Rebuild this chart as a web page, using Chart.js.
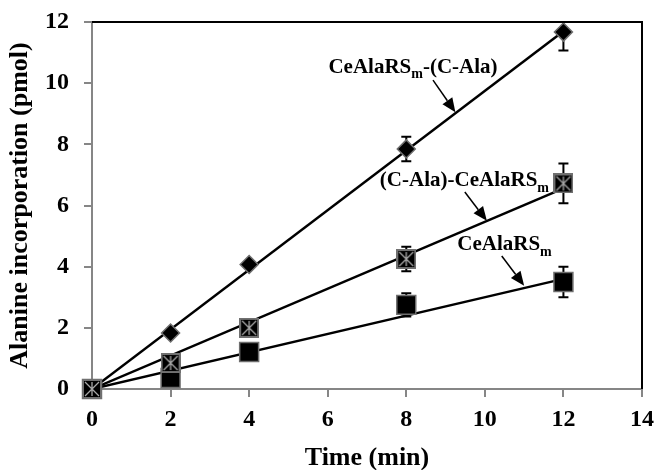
<!DOCTYPE html>
<html>
<head>
<meta charset="utf-8">
<script src="https://cdn.jsdelivr.net/npm/chart.js@4"></script>
<style>
  html, body { margin: 0; padding: 0; background: #fff; }
  #wrap { width: 658px; height: 470px; position: relative; }
</style>
</head>
<body>
<div id="wrap"><canvas id="chart"></canvas></div>
<script>
// time points (min)
const timeMin = [0, 2, 4, 8, 12];

// CeAlaRSm-(C-Ala)
const fusionCAla = [0, 1.83, 4.07, 7.85, 11.67];
const fusionCAlaErr = [0, 0.05, 0.1, 0.4, 0.6];

// (C-Ala)-CeAlaRSm
const cAlaFusion = [0, 0.85, 2.0, 4.25, 6.72];
const cAlaFusionErr = [0, 0.1, 0.15, 0.4, 0.65];

// CeAlaRSm
const ceAlaRSm = [0, 0.36, 1.21, 2.75, 3.5];
const ceAlaRSmErr = [0, 0.1, 0.1, 0.38, 0.5];

// linear trend lines (endpoints)
const trendX = [0, 12];
const trendFusionCAla = [0, 11.7];
const trendCAlaFusion = [0, 6.56];
const trendCeAlaRSm = [0, 3.6];

const xTicks = [0, 2, 4, 6, 8, 10, 12, 14];
const yTicks = [0, 2, 4, 6, 8, 10, 12];

// label: [main, subscript, tail], text centre and arrow in data units
const notes = [
  { parts: ['CeAlaRS', 'm', '-(C-Ala)'], at: [8.17, 10.5], from: [8.68, 10.1], to: [9.25, 9.05] },
  { parts: ['(C-Ala)-CeAlaRS', 'm', ''], at: [9.48, 6.8], from: [9.49, 6.44], to: [10.05, 5.5] },
  { parts: ['CeAlaRS', 'm', ''], at: [10.5, 4.71], from: [10.43, 4.35], to: [11.0, 3.38] },
];

const FONT = "'Liberation Serif', 'Times New Roman', serif";
const AXIS_GREY = '#868686';

function pts(xs, ys) {
  return xs.map((x, i) => ({ x: x, y: ys[i] }));
}

function crossBox(size) {
  const c = document.createElement('canvas');
  c.width = size; c.height = size;
  const g = c.getContext('2d');
  g.fillStyle = '#000';
  g.fillRect(0, 0, size, size);
  g.strokeStyle = '#707070';
  g.lineWidth = 2;
  g.strokeRect(1, 1, size - 2, size - 2);
  g.strokeStyle = '#a8a8a8';
  g.lineWidth = 1.3;
  g.beginPath();
  g.moveTo(3, 3); g.lineTo(size - 3, size - 3);
  g.moveTo(size - 3, 3); g.lineTo(3, size - 3);
  g.moveTo(size / 2, 3); g.lineTo(size / 2, size - 3);
  g.stroke();
  return c;
}

const errorBars = {
  id: 'errorBars',
  beforeDatasetsDraw(chart) {
    const { ctx, chartArea, scales: { x, y } } = chart;
    const sets = [[fusionCAla, fusionCAlaErr], [cAlaFusion, cAlaFusionErr], [ceAlaRSm, ceAlaRSmErr]];
    ctx.save();
    ctx.beginPath();
    ctx.rect(chartArea.left, chartArea.top, chartArea.right - chartArea.left, chartArea.bottom - chartArea.top);
    ctx.clip();
    ctx.strokeStyle = '#000';
    ctx.lineWidth = 2;
    sets.forEach(([vals, errs]) => {
      vals.forEach((v, i) => {
        if (!errs[i]) return;
        const px = x.getPixelForValue(timeMin[i]);
        const hi = y.getPixelForValue(v + errs[i]);
        const lo = y.getPixelForValue(v - errs[i]);
        ctx.beginPath();
        ctx.moveTo(px, hi); ctx.lineTo(px, lo);
        ctx.moveTo(px - 5, hi); ctx.lineTo(px + 5, hi);
        ctx.moveTo(px - 5, lo); ctx.lineTo(px + 5, lo);
        ctx.stroke();
      });
    });
    ctx.restore();
  }
};

const frameAndNotes = {
  id: 'frameAndNotes',
  afterDatasetsDraw(chart) {
    const { ctx, chartArea: a, scales: { x, y } } = chart;
    ctx.save();
    // top and right frame
    ctx.strokeStyle = '#000';
    ctx.lineWidth = 2;
    ctx.beginPath();
    ctx.moveTo(a.left, a.top);
    ctx.lineTo(a.right, a.top);
    ctx.lineTo(a.right, a.bottom);
    ctx.stroke();

    notes.forEach(n => {
      const big = 'bold 21px ' + FONT;
      const small = 'bold 14px ' + FONT;
      ctx.font = big;
      const w1 = ctx.measureText(n.parts[0]).width;
      const w3 = ctx.measureText(n.parts[2]).width;
      ctx.font = small;
      const w2 = ctx.measureText(n.parts[1]).width;
      const total = w1 + w2 + w3;
      let cx = x.getPixelForValue(n.at[0]) - total / 2;
      const cy = y.getPixelForValue(n.at[1]);
      ctx.fillStyle = '#000';
      ctx.textBaseline = 'middle';
      ctx.textAlign = 'left';
      ctx.font = big;
      ctx.fillText(n.parts[0], cx, cy);
      cx += w1;
      ctx.font = small;
      ctx.fillText(n.parts[1], cx, cy + 7);
      cx += w2;
      ctx.font = big;
      ctx.fillText(n.parts[2], cx, cy);

      // arrow
      const x0 = x.getPixelForValue(n.from[0]), y0 = y.getPixelForValue(n.from[1]);
      const x1 = x.getPixelForValue(n.to[0]), y1 = y.getPixelForValue(n.to[1]);
      const ang = Math.atan2(y1 - y0, x1 - x0);
      const len = 14, half = 6;
      const bx = x1 - len * Math.cos(ang), by = y1 - len * Math.sin(ang);
      ctx.lineWidth = 1.5;
      ctx.beginPath();
      ctx.moveTo(x0, y0); ctx.lineTo(bx, by);
      ctx.stroke();
      ctx.beginPath();
      ctx.moveTo(x1, y1);
      ctx.lineTo(bx + half * Math.sin(ang), by - half * Math.cos(ang));
      ctx.lineTo(bx - half * Math.sin(ang), by + half * Math.cos(ang));
      ctx.closePath();
      ctx.fill();
    });
    ctx.restore();
  }
};

function trend(data, order) {
  return {
    type: 'line',
    data: data,
    showLine: true,
    borderColor: '#000',
    borderWidth: 2.5,
    pointRadius: 0,
    fill: false,
    order: order,
  };
}

new Chart(document.getElementById('chart'), {
  type: 'scatter',
  data: {
    datasets: [
      {
        data: pts(timeMin, cAlaFusion),
        pointStyle: crossBox(20),
        pointRadius: 10,
        order: 0,
        clip: false,
      },
      {
        data: pts(timeMin, ceAlaRSm),
        pointStyle: 'rect',
        pointRadius: 13.4,
        backgroundColor: '#000',
        borderColor: '#6e6e6e',
        borderWidth: 1.5,
        order: 1,
        clip: false,
      },
      {
        data: pts(timeMin, fusionCAla),
        pointStyle: 'rectRot',
        pointRadius: 9,
        backgroundColor: '#000',
        borderColor: '#6e6e6e',
        borderWidth: 1.5,
        order: 2,
        clip: false,
      },
      trend(pts(trendX, trendFusionCAla), 3),
      trend(pts(trendX, trendCAlaFusion), 4),
      trend(pts(trendX, trendCeAlaRSm), 5),
    ]
  },
  options: {
    responsive: true,
    maintainAspectRatio: false,
    animation: false,
    layout: { padding: { top: 22, right: 16, left: 0, bottom: 0 } },
    plugins: { legend: { display: false }, tooltip: { enabled: false } },
    scales: {
      x: {
        type: 'linear',
        min: 0, max: 14,
        afterBuildTicks: s => { s.ticks = xTicks.map(v => ({ value: v })); },
        afterFit: s => { s.height = 81; s.paddingLeft = 0; s.paddingRight = 0; },
        ticks: { color: '#000', font: { family: FONT, size: 24, weight: 'bold' }, padding: 8, maxRotation: 0 },
        grid: { drawOnChartArea: false, drawTicks: true, tickLength: 8, color: AXIS_GREY, lineWidth: 2 },
        border: { display: true, color: AXIS_GREY, width: 2 },
        title: { display: true, text: 'Time (min)', color: '#000', font: { family: FONT, size: 26, weight: 'bold' }, padding: { top: 0, bottom: -4 } },
      },
      y: {
        type: 'linear',
        min: 0, max: 12,
        afterBuildTicks: s => { s.ticks = yTicks.map(v => ({ value: v })); },
        afterFit: s => { s.width = 92; s.paddingTop = 0; s.paddingBottom = 0; },
        ticks: { color: '#000', font: { family: FONT, size: 24, weight: 'bold' }, padding: 15 },
        grid: { drawOnChartArea: false, drawTicks: true, tickLength: 8, color: AXIS_GREY, lineWidth: 2 },
        border: { display: true, color: AXIS_GREY, width: 2 },
        title: { display: true, text: 'Alanine incorporation (pmol)', color: '#000', font: { family: FONT, size: 26, weight: 'bold' }, padding: { top: 5, bottom: 0 } },
      }
    }
  },
  plugins: [errorBars, frameAndNotes]
});
</script>
</body>
</html>
